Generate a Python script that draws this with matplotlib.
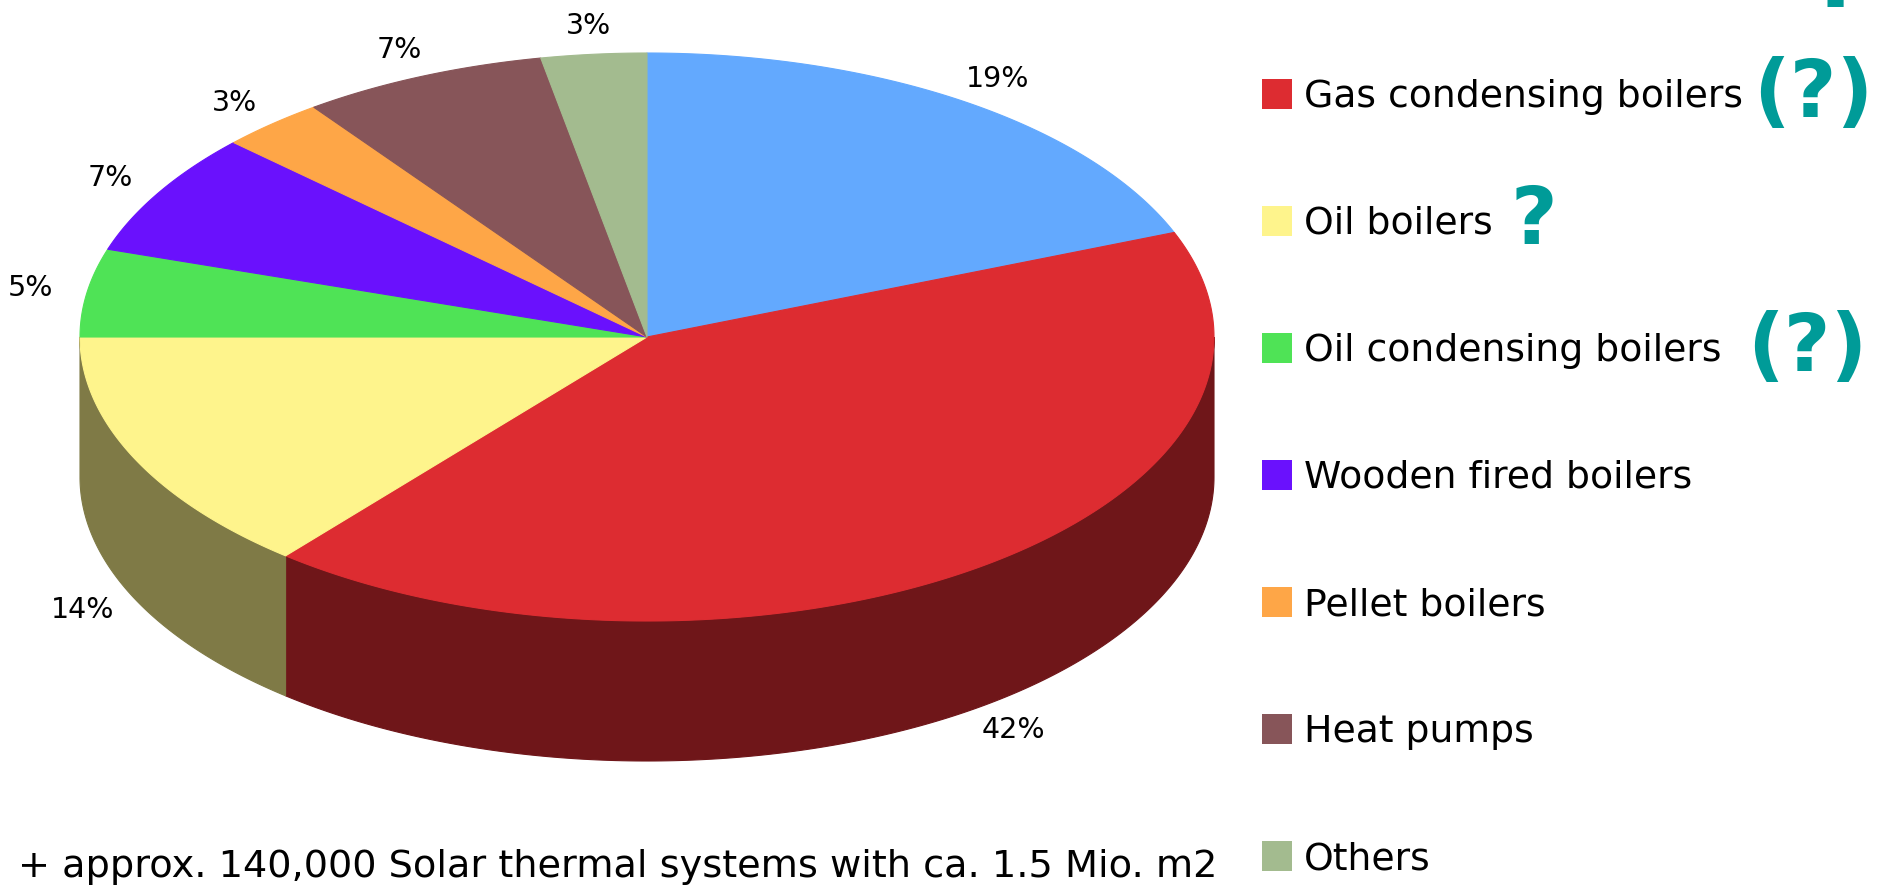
import numpy as np
import matplotlib.pyplot as plt
from matplotlib.patches import Polygon, Rectangle

# data
labels = ['Gas boilers', 'Gas condensing boilers', 'Oil boilers', 'Oil condensing boilers',
          'Wooden fired boilers', 'Pellet boilers', 'Heat pumps', 'Others']
shares = [19, 42, 14, 5, 7, 3, 7, 3]
colors = ['#63a9fe', '#dd2c31', '#fef48c', '#4fe356', '#6a11fd', '#fea647', '#875559', '#a3bb8f']
marks = ['?', '(?)', '?', '(?)', '', '', '', '']
note = '+ approx. 140,000 Solar thermal systems with ca. 1.5 Mio. m2'

# gap (px) between a legend text and its teal mark
mark_gap = [0, 10, 18, 26, 0, 0, 0, 0]

W, H = 1888, 889
fig = plt.figure(figsize=(W / 100, H / 100), dpi=100)
ax = fig.add_axes([0, 0, 1, 1])
ax.set_xlim(0, W)
ax.set_ylim(H, 0)
ax.axis('off')

# 3d pie geometry (pixels)
cx, cy, rx, ry, depth = 647, 337, 567, 284, 140
teal = '#009b98'


def pt(t, dy=0.0):
    t = np.radians(t)
    return cx + rx * np.cos(t), cy - ry * np.sin(t) + dy


fr = np.array(shares, float) / sum(shares)
edges = 90 - 360 * np.concatenate([[0], np.cumsum(fr)])

# side walls (front half only)
for i, c in enumerate(colors):
    hi, lo = min(edges[i], 0), max(edges[i + 1], -180)
    if hi <= lo:
        continue
    t = np.linspace(hi, lo, 200)
    xt, yt = pt(t)
    xb, yb = pt(t[::-1], depth)
    rgb = np.array([int(c[k:k + 2], 16) for k in (1, 3, 5)]) / 255 * 0.5
    ax.add_patch(Polygon(np.column_stack([np.r_[xt, xb], np.r_[yt, yb]]),
                         closed=True, fc=rgb, ec=rgb, lw=0.8, zorder=1))

# top faces
for i, c in enumerate(colors):
    t = np.linspace(edges[i], edges[i + 1], 300)
    xs, ys = pt(t)
    ax.add_patch(Polygon(np.column_stack([np.r_[cx, xs], np.r_[cy, ys]]),
                         closed=True, fc=c, ec=c, lw=0.8, zorder=2))

# percentage labels
k = 1.1
for i, s in enumerate(shares):
    mid = np.radians((edges[i] + edges[i + 1]) / 2)
    lx = cx + rx * k * np.cos(mid)
    ly = cy - ry * k * np.sin(mid) + (depth if np.sin(mid) < 0 else 0)
    ax.text(lx, ly, f'{s}%', ha='center', va='center', fontsize=20.5, zorder=3)

# legend (first entry sits above the visible area, only its mark peeks in)
y0, step = -33, 127
for i, (lab, c) in enumerate(zip(labels, colors)):
    y = y0 + i * step
    if y < 0:
        if marks[i]:
            ax.text(1838, 7, marks[i], fontsize=66, fontweight='bold', color=teal,
                    ha='center', va='baseline')
        continue
    ax.add_patch(Rectangle((1262, y - 15), 30, 30, fc=c, ec='none'))
    txt = ax.text(1304, y + 13, lab, fontsize=27.2, va='baseline', ha='left')
    if marks[i]:
        ax.annotate(marks[i], xy=(1, 0.5), xycoords=txt, xytext=(mark_gap[i], 2),
                    textcoords='offset pixels', fontsize=58, fontweight='bold',
                    color=teal, ha='left', va='center')

ax.text(18, 867, note, fontsize=27.5, ha='left', va='center')

fig.savefig('out.png', dpi=100)
